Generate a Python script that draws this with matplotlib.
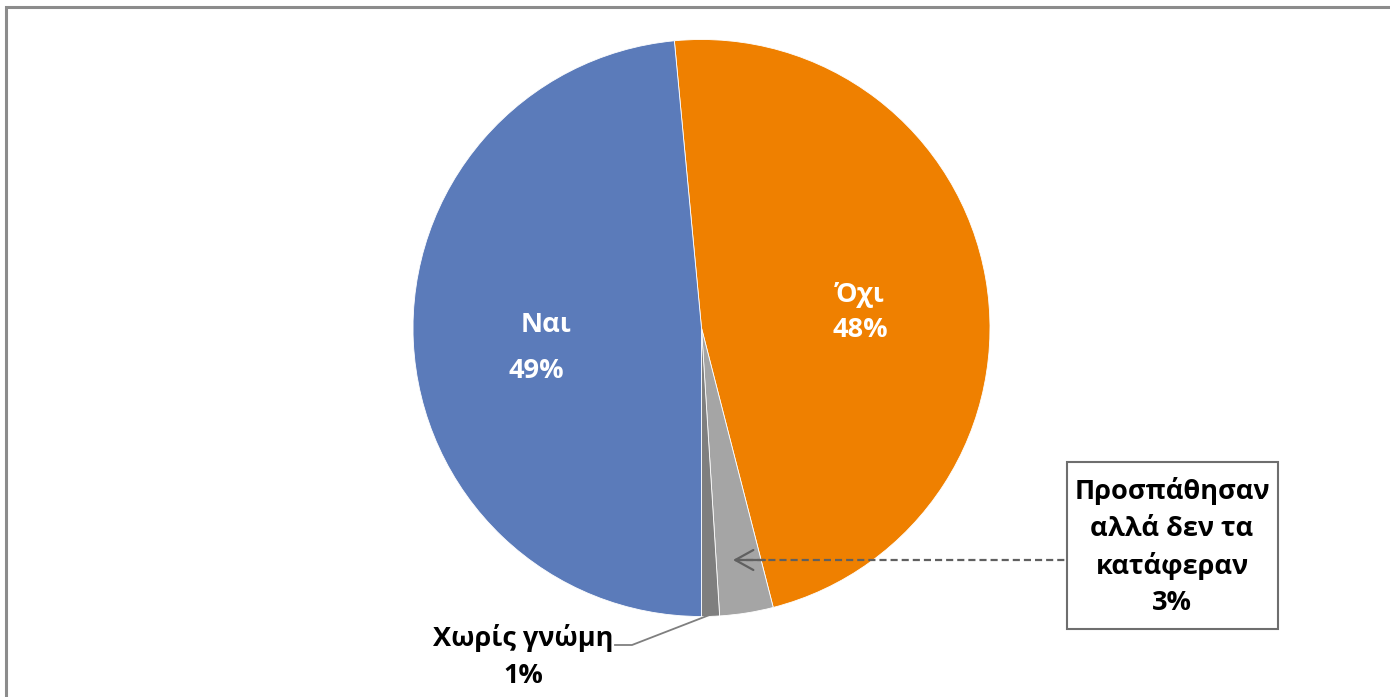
import matplotlib
matplotlib.use("Agg")
import matplotlib.pyplot as plt
from matplotlib.patches import Rectangle

plt.rcParams['font.family'] = ['Open Sans', 'DejaVu Sans']

categories = ['Όχι', 'Προσπάθησαν\nαλλά δεν τα\nκατάφεραν', 'Χωρίς γνώμη', 'Ναι']
values = [47.5, 3.0, 1.0, 48.5]
pct_labels = ['48%', '3%', '1%', '49%']
colors = ['#EF8000', '#A5A5A5', '#7F7F7F', '#5B7BBA']

W, H = 1390, 697
fig = plt.figure(figsize=(W / 100, H / 100), dpi=100)
ax = fig.add_axes([0, 0, 1, 1])


def py(y):
    return H - y


cx, cy, r = 701.5, py(328), 288.5
ax.pie(values, colors=colors, startangle=95.4, counterclock=False,
       center=(cx, cy), radius=r, frame=True,
       wedgeprops=dict(edgecolor='white', linewidth=0.6))
ax.set_xlim(0, W)
ax.set_ylim(0, H)
ax.axis('off')

# chart border (only left and top visible)
ax.plot([6, 6, W + 5], [-5, py(7), py(7)], color='#8C8C8C', linewidth=2.2,
        solid_joinstyle='miter', zorder=0)

fs = 19.5
kw = dict(fontsize=fs, fontweight='bold', ha='center', va='center')
# inside labels
ax.text(546, py(325), categories[3], color='white', **kw)
ax.text(536, py(371), pct_labels[3], color='white', **kw)
ax.text(860, py(295), categories[0], color='white', **kw)
ax.text(860, py(330), pct_labels[0], color='white', **kw)

# Χωρίς γνώμη
ax.text(523, py(638), categories[2], color='black', **kw)
ax.text(523, py(676), pct_labels[2], color='black', **kw)
ax.plot([615, 632, 712], [py(645), py(645), py(614)], color='#7F7F7F', linewidth=1.3)

# boxed label
ax.add_patch(Rectangle((1067, py(629)), 1278 - 1067, 629 - 462, fill=True, facecolor='white',
                       edgecolor='#6E6E6E', linewidth=1.5, zorder=3))
lines = categories[1].split('\n') + [pct_labels[1]]
for i, t in enumerate(lines):
    ax.text(1172, py(491 + 37.5 * i), t, color='black', zorder=4, **kw)

# dashed leader with open arrowhead
ax.plot([735, 1066], [py(560), py(560)], color='#606060', linewidth=1.6,
        linestyle=(0, (3.2, 1.8)), zorder=5)
ax.annotate('', xy=(733, py(560)), xytext=(765, py(560)),
            arrowprops=dict(arrowstyle='->,head_length=1.3,head_width=0.72', color='#606060',
                            linewidth=1.6, shrinkA=0, shrinkB=0, mutation_scale=10),
            zorder=5)

fig.savefig('out.png', dpi=100)
